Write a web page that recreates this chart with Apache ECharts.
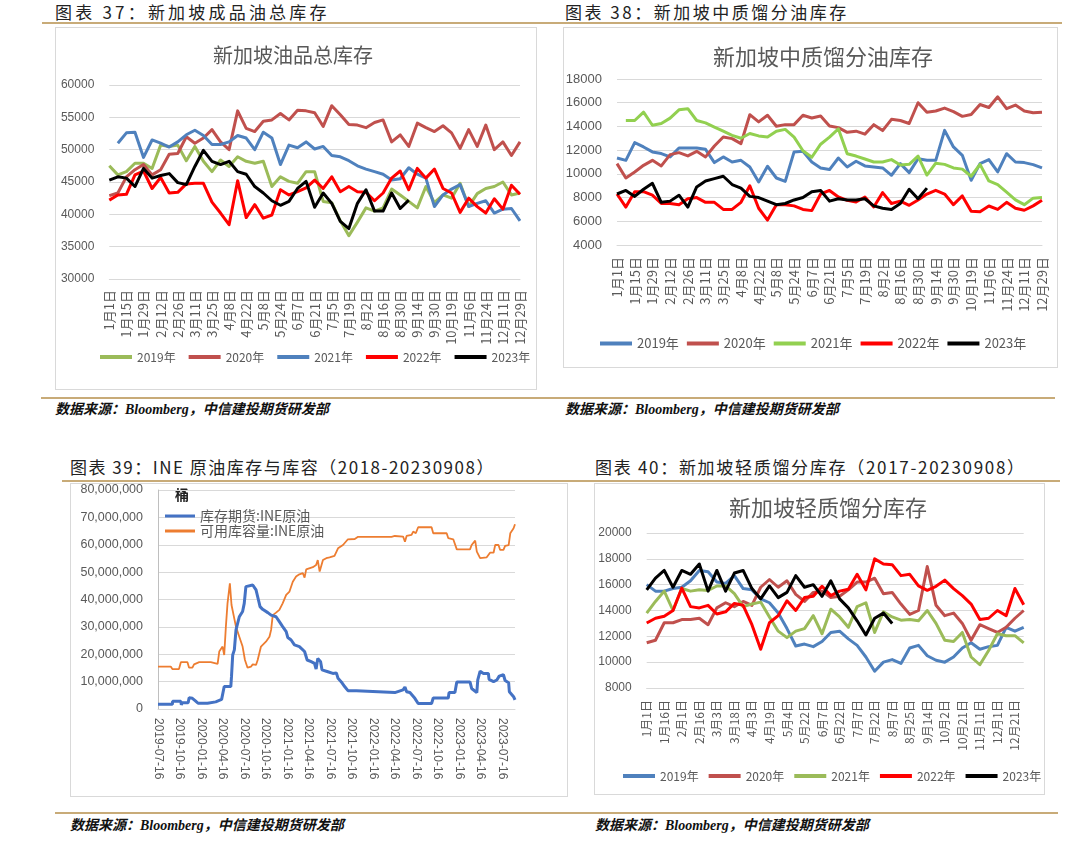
<!DOCTYPE html>
<html><head><meta charset="utf-8">
<script src="https://cdn.jsdelivr.net/npm/echarts/dist/echarts.min.js"></script>
<style>
body{margin:0;width:1080px;height:841px;background:#fff;position:relative;overflow:hidden;font-family:"Noto Sans CJK SC",sans-serif;}
.hd{position:absolute;font-size:17px;color:#222;letter-spacing:1.5px;white-space:nowrap;line-height:20px;}
.src{position:absolute;font:italic bold 14px "Liberation Serif","Noto Sans CJK SC",serif;color:#111;white-space:nowrap;line-height:18px;}
.rule{position:absolute;height:0;border-top:2px solid #C8AB78;}
.box{position:absolute;border:1px solid #D9D9D9;box-sizing:border-box;background:#fff;}
.ch{position:absolute;}
</style></head><body>
<div class="hd" style="left:55px;top:2px;letter-spacing:3.2px">图表 37：新加坡成品油总库存</div>
<div class="hd" style="left:565px;top:2px;letter-spacing:2.5px">图表 38：新加坡中质馏分油库存</div>
<div class="rule" style="left:42px;top:22px;width:1020px"></div>
<div class="box" style="left:55px;top:27px;width:482px;height:363px"></div>
<div class="box" style="left:563px;top:27px;width:495px;height:341px"></div>
<div class="rule" style="left:41px;top:397px;width:1014px"></div>
<div class="src" style="left:55px;top:401px">数据来源：Bloomberg，中信建投期货研发部</div>
<div class="src" style="left:565px;top:401px">数据来源：Bloomberg，中信建投期货研发部</div>
<div class="hd" style="left:70px;top:457px">图表 39：INE 原油库存与库容（2018-20230908）</div>
<div class="hd" style="left:595px;top:457px;letter-spacing:1.7px">图表 40：新加坡轻质馏分库存（2017-20230908）</div>
<div class="rule" style="left:62px;top:480px;width:998px"></div>
<div class="box" style="left:70px;top:483px;width:498px;height:314px"></div>
<div class="box" style="left:594px;top:483px;width:451px;height:312px"></div>
<div class="rule" style="left:55px;top:812px;width:1003px"></div>
<div class="src" style="left:70px;top:817px">数据来源：Bloomberg，中信建投期货研发部</div>
<div class="src" style="left:595px;top:817px">数据来源：Bloomberg，中信建投期货研发部</div>

<div id="c37" class="ch" style="left:55px;top:27px;width:482px;height:363px"></div>
<div id="c38" class="ch" style="left:563px;top:27px;width:495px;height:341px"></div>
<div id="c39" class="ch" style="left:70px;top:481px;width:498px;height:316px"></div>
<div id="c40" class="ch" style="left:594px;top:482px;width:451px;height:313px"></div>
<script>
// ---------- categories ----------
const cats49 = ['1月1日','1月8日','1月15日','1月22日','1月29日','2月5日','2月12日','2月19日','2月26日','3月4日','3月11日','3月18日','3月25日','4月1日','4月8日','4月15日','4月22日','4月29日','5月8日','5月16日','5月24日','5月31日','6月7日','6月14日','6月21日','6月28日','7月5日','7月12日','7月19日','7月26日','8月2日','8月9日','8月16日','8月23日','8月30日','9月7日','9月14日','9月22日','9月30日','10月10日','10月19日','10月27日','11月6日','11月15日','11月24日','12月2日','12月11日','12月20日','12月29日'];
const cats44 = ['1月1日','1月8日','1月16日','1月24日','2月1日','2月8日','2月16日','2月24日','3月3日','3月10日','3月18日','3月25日','4月3日','4月11日','4月19日','4月26日','5月4日','5月13日','5月22日','5月30日','6月7日','6月14日','6月22日','6月29日','7月7日','7月14日','7月22日','7月29日','8月7日','8月16日','8月25日','9月4日','9月14日','9月23日','10月2日','10月11日','10月21日','10月31日','11月11日','11月21日','12月1日','12月11日','12月21日','12月28日'];
const years = ['2019年','2020年','2021年','2022年','2023年'];

// ---------- 图表37 新加坡油品总库存 ----------
const tot2019 = [47500,46100,46600,47900,47900,47100,50700,50500,50700,48300,50500,48200,46600,48400,47400,48900,48200,47900,48200,44300,45800,45100,44800,46600,46600,42000,41800,39000,36700,38800,41000,40500,41000,43900,43000,42000,41000,44300,41800,43000,42500,44800,41200,43200,44000,44300,45000,43000,43300];
const tot2020 = [42900,43300,45800,46900,47700,46100,46900,49300,49400,52000,51000,51800,53100,51200,50000,56000,53300,52800,54400,54600,55600,54600,56100,56000,55700,53600,56800,55400,53900,53800,53400,54200,54600,51200,52300,50500,54100,53400,52800,53700,52600,50200,53100,50500,53800,50000,51200,49100,51200];
const tot2021 = ['-',51000,52600,52700,48800,51500,51000,50400,51200,52300,53000,52200,50800,50800,51200,52200,51800,50000,52700,51800,47700,50700,50300,51200,50100,50500,49100,48900,48300,47500,47000,46600,46200,45300,45500,47200,46200,45600,41200,43000,43900,44600,41200,41700,42100,40200,40800,40900,39000];
const tot2022 = [42200,43000,43100,46100,46700,44000,45700,43300,43400,44700,44800,44800,41900,40200,38400,45200,39500,41500,39400,39900,43800,43000,43500,44100,45300,44000,45800,43500,44300,43500,43400,42100,43300,45600,46700,43800,47100,45600,47000,44000,43300,40300,42500,41200,40200,42400,40800,44500,43100];
const tot2023 = [45300,45800,45600,44300,47100,45600,46000,46300,44900,44600,47400,49900,48200,47700,48200,46600,46200,44300,43300,42100,41400,42000,44000,45100,41100,43300,41700,38900,37800,41700,43800,40500,40500,43300,40900,42200];

// ---------- 图表38 新加坡中质馏分油库存 ----------
const mid2019 = [11340,11140,12630,12270,11850,11710,11430,12180,12180,12180,12070,10950,11430,11000,11140,10580,9320,10640,9650,9370,11850,11900,11000,10500,10360,11340,10580,11060,10670,10580,10500,9880,10860,10100,11280,11140,11140,13670,12270,11560,9460,10860,11200,10160,11700,11000,10950,10780,10500];
const mid2020 = [10860,9650,10160,10720,11140,10670,11620,11790,11510,11900,11430,12350,13110,12970,12550,14990,14380,14940,14010,14150,14150,14940,14710,14880,14040,13900,13500,13600,13350,14150,13650,14600,14500,14250,16000,15200,15300,15550,15250,14850,15000,15850,15600,16500,15500,15800,15300,15150,15200];
const mid2021 = ['-',14500,14500,15200,14100,14250,14700,15400,15500,14500,14300,13950,13600,13250,13000,13400,13200,13100,13600,13750,13100,11950,11400,12500,13100,13800,11700,11500,11250,11000,11000,11200,10750,10800,11500,9900,10900,10800,10500,10400,9800,10800,9400,9100,8450,7800,7400,7950,8000];
const mid2022 = [8300,7200,8500,8500,8200,7500,7500,7400,7900,8000,7600,7600,7000,7000,7600,9000,7100,6100,7400,7400,7300,7000,6900,8300,8600,8050,7770,7630,8050,7210,8420,7500,7700,7350,7800,8300,8610,8300,7400,8140,6840,6800,7290,7000,7600,7100,6930,7300,7770];
const mid2023 = [8300,8600,8100,8700,9200,7600,7700,8200,7200,8900,9400,9600,9800,9100,8800,8100,8000,7700,7400,7500,7800,8000,8500,8600,7700,7900,7800,7800,7900,7300,7100,7000,7500,8700,7900,8800];

// ---------- 图表40 新加坡轻质馏分库存 ----------
const lt2019 = [16000,15500,15500,15700,15800,16300,17100,17000,16200,16100,16700,15700,15600,14900,14600,13800,12600,11250,11400,11200,11600,12300,12400,11800,11300,10400,9300,10000,10200,9900,11100,11300,10500,10150,10000,10400,11100,11500,11000,11200,11300,12700,12400,12700];
const lt2020 = [11500,11700,13050,13050,13300,13300,13400,12900,14200,14600,14300,14700,14400,15800,16400,15800,16300,15250,14700,15400,15500,15000,15100,15600,16200,16200,16500,15300,15400,14500,13700,14000,17400,14400,13600,13800,13000,11700,12900,12600,12300,12700,13400,14000];
const lt2021 = [13800,14700,15500,14000,15700,15500,15600,15550,15900,15900,15300,14300,14500,14650,13500,12400,11900,12400,12600,13600,12200,14100,13500,12700,14300,14600,12300,13900,13500,13250,13300,13200,14000,13000,11700,11600,12300,10400,9800,10900,12200,12050,12050,11500];
const lt2022 = [13030,13400,13550,14000,15740,14300,14200,14400,13730,13900,14550,14400,12900,11000,13050,13600,14750,14000,15000,15100,15870,15150,15500,15650,16800,15600,18000,17600,17550,16700,16800,15900,15560,15870,16350,15700,15150,14500,13300,13400,14000,13600,15700,14450];
const lt2023 = [15600,16500,17100,15800,17100,16800,17600,15500,17100,15500,16900,17100,15700,14900,15900,15000,15400,16700,15800,16000,15100,16300,14900,14200,13200,12100,13400,13800,13000];

// ---------- 图表39 INE原油库存与库容 ----------
const ineStart = '2019-07-16', ineEnd = '2023-09-08';
const ineTickLabels = ['2019-07-16','2019-10-16','2020-01-16','2020-04-16','2020-07-16','2020-10-16','2021-01-16','2021-04-16','2021-07-16','2021-10-16','2022-01-16','2022-04-16','2022-07-16','2022-10-16','2023-01-16','2023-04-16','2023-07-16'];
const invDates = ['2019-07-16','2019-09-15','2019-09-16','2019-10-21','2019-10-23','2019-10-27','2019-11-21','2019-11-25','2019-12-09','2019-12-16','2019-12-23','2020-01-02','2020-02-11','2020-02-13','2020-03-17','2020-03-25','2020-04-11','2020-04-19','2020-04-22','2020-05-20','2020-05-23','2020-05-28','2020-06-04','2020-06-11','2020-06-25','2020-07-09','2020-07-16','2020-07-23','2020-07-30','2020-08-21','2020-08-28','2020-09-04','2020-09-11','2020-09-21','2020-10-02','2020-10-24','2020-11-07','2020-11-28','2020-12-12','2020-12-26','2021-01-10','2021-01-17','2021-01-31','2021-02-14','2021-03-07','2021-03-29','2021-04-09','2021-04-26','2021-05-10','2021-05-17','2021-05-24','2021-06-05','2021-06-11','2021-07-06','2021-07-27','2021-08-11','2021-08-18','2021-09-01','2021-09-15','2021-09-29','2021-11-04','2021-11-11','2022-04-16','2022-04-23','2022-05-21','2022-05-29','2022-06-05','2022-06-19','2022-07-10','2022-07-24','2022-09-19','2022-09-26','2022-11-29','2022-12-02','2022-12-27','2023-01-04','2023-03-01','2023-03-08','2023-03-30','2023-04-03','2023-04-13','2023-04-27','2023-05-18','2023-05-21','2023-06-09','2023-06-23','2023-07-03','2023-07-21','2023-07-28','2023-08-12','2023-08-15','2023-09-02','2023-09-08'];
const invValues = [1700000,1700000,2800000,2800000,1500000,2300000,2300000,4100000,3900000,3500000,2900000,2100000,2100000,2600000,2600000,2900000,3500000,3500000,8200000,8200000,12000000,19700000,21600000,28900000,33700000,35600000,38600000,44700000,45300000,45300000,44700000,43500000,41000000,37400000,36400000,35200000,34300000,33700000,31900000,30100000,28300000,26100000,25200000,23400000,22800000,21000000,17900000,17300000,16700000,14600000,18500000,17300000,14300000,13600000,13000000,13200000,11200000,9900000,8200000,6700000,6700000,6000000,6000000,5500000,7000000,8000000,6300000,6000000,3900000,2000000,2000000,4000000,4000000,6000000,6000000,9900000,9900000,7500000,6000000,10600000,13800000,13000000,13000000,10800000,10000000,10600000,12000000,12500000,10400000,9600000,6300000,4500000,3300000];
const capDates = ['2019-07-16','2019-09-08','2019-09-15','2019-10-13','2019-10-21','2019-11-18','2019-11-25','2019-12-09','2019-12-16','2020-01-07','2020-02-25','2020-02-26','2020-03-25','2020-04-01','2020-04-15','2020-04-22','2020-04-29','2020-05-06','2020-05-16','2020-05-23','2020-05-30','2020-06-11','2020-06-25','2020-07-09','2020-07-19','2020-07-30','2020-08-14','2020-08-21','2020-09-04','2020-09-11','2020-09-25','2020-10-16','2020-10-31','2020-11-07','2020-11-14','2020-11-28','2020-12-12','2020-12-26','2021-01-10','2021-01-24','2021-02-07','2021-02-21','2021-03-07','2021-03-22','2021-03-29','2021-04-05','2021-05-03','2021-05-17','2021-05-24','2021-06-01','2021-06-08','2021-06-15','2021-06-29','2021-07-13','2021-08-03','2021-08-18','2021-09-08','2021-09-29','2021-10-28','2021-11-11','2022-04-02','2022-04-16','2022-05-21','2022-05-29','2022-06-05','2022-06-26','2022-07-03','2022-07-14','2022-07-24','2022-09-19','2022-09-26','2022-11-22','2022-11-29','2022-12-20','2023-01-04','2023-03-01','2023-03-08','2023-03-23','2023-03-30','2023-04-13','2023-05-11','2023-05-25','2023-06-09','2023-06-16','2023-06-30','2023-07-07','2023-07-21','2023-07-28','2023-08-12','2023-08-19','2023-09-02','2023-09-08'];
const capValues = [15500000,15500000,14600000,14600000,17100000,17100000,15100000,15100000,16300000,17100000,17100000,16500000,16500000,21000000,22800000,19700000,30000000,38600000,45900000,38000000,38600000,30000000,26400000,22800000,17900000,15100000,15500000,16300000,16100000,17900000,22800000,24600000,26400000,28900000,34300000,35200000,36200000,38600000,41700000,42900000,46500000,48400000,49200000,49600000,48000000,51000000,51800000,52600000,54400000,50200000,50200000,54400000,55100000,55400000,55900000,58700000,59900000,62000000,62100000,62900000,62900000,63200000,63000000,61100000,63200000,63600000,64800000,64200000,66400000,66400000,64200000,64200000,62400000,62000000,58300000,58300000,59900000,61500000,57500000,55100000,55400000,57100000,57100000,59900000,59900000,58100000,58100000,59600000,59900000,64200000,66000000,67500000];

// ---------- helpers ----------
const AX = '#595959', GRID = '#D9D9D9';
function yearChart(id, o) {
  const ch = echarts.init(document.getElementById(id));
  ch.setOption({
    animation: false,
    graphic: [{type:'text', x:o.titleX, y:o.titleY, style:{text:o.title, fill:AX, font:o.titleSize+'px "Noto Sans CJK SC"', textAlign:'center', textVerticalAlign:'middle'}}],
    grid: {left:o.grid[0], top:o.grid[1], width:o.grid[2], height:o.grid[3], containLabel:false, outerBoundsMode:'none'},
    legend: {left:o.legend[0], top:o.legend[1], width:470, padding:0, icon:'rect', itemWidth:32, itemHeight:4, itemGap:o.legendGap,
      textStyle:{fontSize:o.legendFont, color:AX, fontFamily:'Noto Sans CJK SC'}, data:years},
    xAxis: {type:'category', data:o.cats, boundaryGap:false,
      axisLine:{show:true, lineStyle:{color:GRID}}, axisTick:{show:false},
      axisLabel:{interval:1, rotate:90, margin:o.xMargin, fontSize:o.xFont, color:AX, fontFamily:'Noto Sans CJK SC'}},
    yAxis: {type:'value', min:o.y[0], max:o.y[1], interval:o.y[2],
      axisLine:{show:false}, axisTick:{show:false}, splitLine:{lineStyle:{color:GRID}},
      axisLabel:{margin:15, fontSize:o.yFont, color:AX, fontFamily:'Liberation Sans', formatter:v=>String(v)}},
    series: o.series.map((d,i)=>({name:years[i], type:'line', data:d, symbol:'none', showSymbol:false,
      lineStyle:{width:3, color:o.colors[i], join:'round'}, itemStyle:{color:o.colors[i]}}))
  });
}

yearChart('c37', {title:'新加坡油品总库存', titleX:238, titleY:28, titleSize:20,
  grid:[54.3, 58, 410.7, 194], legend:[45, 324], legendGap:13, legendFont:12,
  cats:cats49, xMargin:11, xFont:13, yFont:12, y:[30000,60000,5000],
  colors:['#9BBB59','#C0504D','#4F81BD','#FF0000','#000000'],
  series:[tot2019,tot2020,tot2021,tot2022,tot2023]});

yearChart('c38', {title:'新加坡中质馏分油库存', titleX:260, titleY:30, titleSize:22,
  grid:[54, 52, 425, 166], legend:[37, 310], legendGap:8, legendFont:13,
  cats:cats49, xMargin:12, xFont:13, yFont:13, y:[4000,18000,2000],
  colors:['#4F81BD','#C0504D','#92D050','#FF0000','#000000'],
  series:[mid2019,mid2020,mid2021,mid2022,mid2023]});

yearChart('c40', {title:'新加坡轻质馏分库存', titleX:234, titleY:26, titleSize:22,
  grid:[52.7, 51, 377, 155], legend:[29, 288], legendGap:10, legendFont:12,
  cats:cats44, xMargin:12, xFont:12, yFont:12, y:[8000,20000,2000],
  colors:['#4F81BD','#C0504D','#9BBB59','#FF0000','#000000'],
  series:[lt2019,lt2020,lt2021,lt2022,lt2023]});

// INE chart on a day-offset value axis
const DAY = 86400000, t0 = Date.parse(ineStart);
const dayOf = s => (Date.parse(s) - t0) / DAY;
const tickStep = dayOf(ineTickLabels[16]) / 16;
(function(){
  const ch = echarts.init(document.getElementById('c39'));
  ch.setOption({
    animation:false,
    graphic:[{type:'text', x:112, y:14, style:{text:'桶', fill:'#222', font:'bold 14px "Noto Sans CJK SC"', textAlign:'center', textVerticalAlign:'middle'}}],
    grid:{left:88, top:9, width:357, height:219, containLabel:false, outerBoundsMode:'none'},
    legend:{orient:'vertical', left:95, top:28, padding:0, icon:'rect', itemWidth:30, itemHeight:3, itemGap:1,
      textStyle:{fontSize:14, color:AX, fontFamily:'Noto Sans CJK SC'}, data:['库存期货:INE原油','可用库容量:INE原油']},
    xAxis:{type:'value', min:0, max:dayOf(ineEnd), interval:tickStep, splitLine:{show:false},
      axisLine:{show:true, lineStyle:{color:GRID}}, axisTick:{show:false},
      axisLabel:{rotate:-90, margin:9, fontSize:12, color:AX, showMaxLabel:false, fontFamily:'Liberation Sans',
        formatter:v=>{const k=Math.round(v/tickStep); return (Math.abs(v/tickStep-k)<0.01 && ineTickLabels[k])?ineTickLabels[k]:'';}}},
    yAxis:{type:'value', min:0, max:80000000, interval:10000000,
      axisLine:{show:true, lineStyle:{color:'#BFBFBF'}}, axisTick:{show:false}, splitLine:{lineStyle:{color:GRID}},
      axisLabel:{margin:15, fontSize:12.5, color:AX, fontFamily:'Liberation Sans', formatter:v=>v.toLocaleString('en-US')}},
    series:[
      {name:'库存期货:INE原油', type:'line', symbol:'none', data:invDates.map((d,i)=>[dayOf(d), invValues[i]]), lineStyle:{width:3, color:'#4472C4'}, itemStyle:{color:'#4472C4'}, z:3},
      {name:'可用库容量:INE原油', type:'line', symbol:'none', data:capDates.map((d,i)=>[dayOf(d), capValues[i]]), lineStyle:{width:1.8, color:'#ED7D31'}, itemStyle:{color:'#ED7D31'}, z:2}
    ]
  });
})();
</script>
</body></html>
